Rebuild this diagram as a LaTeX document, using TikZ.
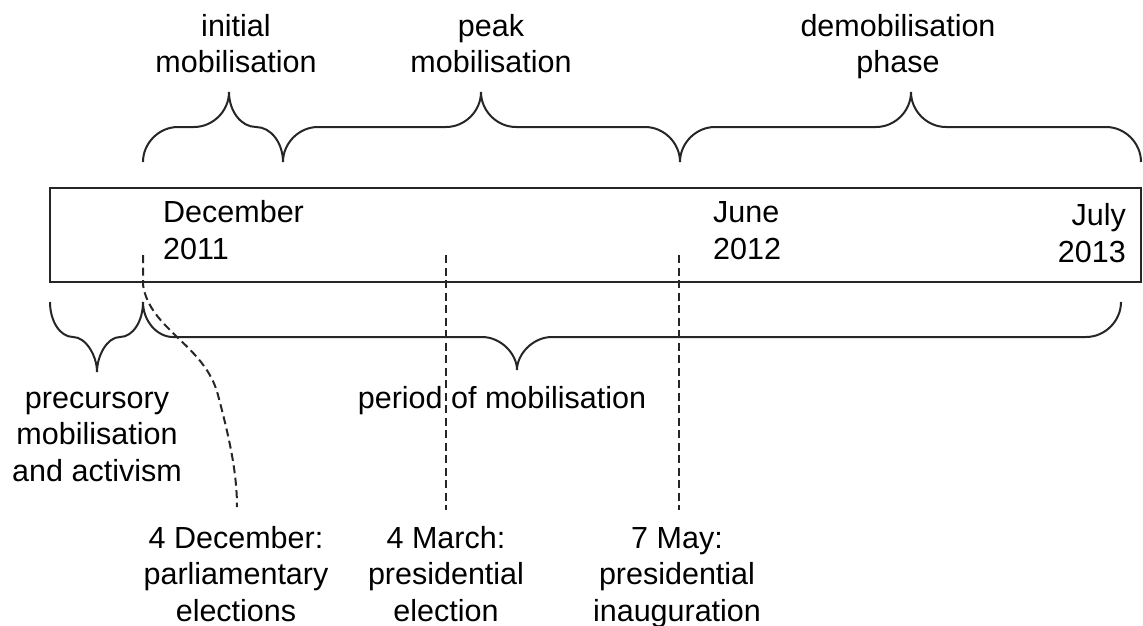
\documentclass[tikz,border=0pt]{standalone}
\usepackage{fontspec}
\setmainfont{Liberation Sans}
\begin{document}
\begin{tikzpicture}[x=1pt,y=-1pt,
  lbl/.style={inner sep=0pt,align=center,font=\fontsize{30.5}{36.5}\selectfont,text=black},
  bracestyle/.style={draw=black!85,line width=2pt},
  tickdash/.style={draw=black!85,line width=2pt,dash pattern=on 8pt off 4.5pt}]
\useasboundingbox (0,0) rectangle (1143,626);
% timeline box
\node[draw=black!85,line width=2.2pt,minimum width=1091pt,minimum height=94pt,inner sep=0pt] (box) at (595.5,235) {};
% dates
\node[lbl,align=left,anchor=base west] (dec) at (163,259) {December\\2011};
\node[lbl,align=left,anchor=base west] (jun) at (713,259) {June\\2012};
\node[lbl,align=right,anchor=base east] (jul) at (1126,262) {July\\2013};
% top phase labels
\node[lbl,anchor=base] (init) at (236,73) {initial\\mobilisation};
\node[lbl,anchor=base] (peak) at (491,73) {peak\\mobilisation};
\node[lbl,anchor=base] (demob) at (898,73) {demobilisation\\phase};
% top braces
\draw[bracestyle] (143,162) .. controls (143,143) and (159,127) .. (178,127) -- (194,127)
  .. controls (213,127) and (229,111) .. (229,92)
  .. controls (229,111) and (241,127) .. (256,127)
  .. controls (271,127) and (283,143) .. (283,162);
\draw[bracestyle] (283,162) .. controls (283,143) and (299,127) .. (318,127) -- (446,127)
  .. controls (465,127) and (481,111) .. (481,92)
  .. controls (481,111) and (497,127) .. (516,127) -- (645,127)
  .. controls (664,127) and (680,143) .. (680,162);
\draw[bracestyle] (680,162) .. controls (680,143) and (696,127) .. (715,127) -- (876,127)
  .. controls (895,127) and (911,111) .. (911,92)
  .. controls (911,111) and (927,127) .. (946,127) -- (1106,127)
  .. controls (1125,127) and (1141,143) .. (1141,162);
% bottom braces
\draw[bracestyle] (50,302) .. controls (50,321) and (60,337) .. (73,337)
  .. controls (86,337) and (97,356) .. (97,372)
  .. controls (97,356) and (107,337) .. (120,337)
  .. controls (133,337) and (143,321) .. (143,302);
\draw[bracestyle] (143,302) .. controls (143,321) and (157,337) .. (173,337) -- (482,337)
  .. controls (501,337) and (517,354) .. (517,370)
  .. controls (517,354) and (533,337) .. (552,337) -- (1086,337)
  .. controls (1105,337) and (1121,321) .. (1121,302);
% bottom labels
\node[lbl,anchor=base] (prec) at (97,481) {precursory\\mobilisation\\and activism};
\node[lbl,anchor=base] (period) at (502,408) {period of mobilisation};
\node[lbl,anchor=base] (pel) at (236,621) {4 December:\\parliamentary\\elections};
\node[lbl,anchor=base] (mar) at (446,621) {4 March:\\presidential\\election};
\node[lbl,anchor=base] (may) at (677,621) {7 May:\\presidential\\inauguration};
% dashed event lines
\coordinate (dtop) at (143,255); \coordinate (dbot) at (237,507);
\coordinate (mtop) at (446,255); \coordinate (mbot) at (446,510);
\coordinate (ytop) at (679,255); \coordinate (ybot) at (679,510);
\draw[tickdash] (dtop) -- (143,285) .. controls (150,330) and (205,345) .. (218,395)
  .. controls (228,433) and (237,470) .. (dbot);
\draw[tickdash] (mtop) -- (mbot);
\draw[tickdash] (ytop) -- (ybot);
\end{tikzpicture}
\end{document}
